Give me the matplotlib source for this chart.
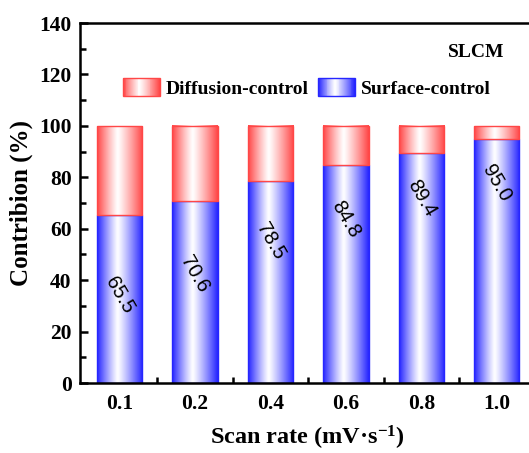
import numpy as np
import matplotlib
matplotlib.use("Agg")
import matplotlib.pyplot as plt
from matplotlib.legend_handler import HandlerBase
from matplotlib.patches import Rectangle

# data
rates = ["0.1", "0.2", "0.4", "0.6", "0.8", "1.0"]
surface = [65.5, 70.6, 78.5, 84.8, 89.4, 95.0]
diffusion = [100 - v for v in surface]
label_y = [34, 42.5, 55, 63.7, 71.8, 77.6]   # where the rotated numbers sit

BLUE = np.array([0.15, 0.15, 1.0])
RED = np.array([1.0, 0.28, 0.28])

plt.rcParams['font.family'] = ['Liberation Serif', 'DejaVu Serif']
plt.rcParams['font.weight'] = 'bold'
plt.rcParams['axes.labelweight'] = 'bold'
plt.rcParams['mathtext.fontset'] = 'custom'
plt.rcParams['mathtext.rm'] = 'Liberation Serif:bold'
plt.rcParams['mathtext.bf'] = 'Liberation Serif:bold'
plt.rcParams['mathtext.default'] = 'bf'


def gradient_row(edge, n=64, c=0.45):
    # horizontal shading: coloured edges, white near the middle
    x = np.linspace(0, 1, n)
    d = np.where(x < c, (c - x) / c, (x - c) / (1 - c))
    d = d ** 1.15
    return (1 - d)[:, None] * np.ones(3) + d[:, None] * edge


def gradient_bar(ax, x, bottom, height, width, edge, zorder=2):
    img = gradient_row(edge)[None, :, :]
    ax.imshow(img, extent=(x - width / 2, x + width / 2, bottom, bottom + height),
              aspect='auto', interpolation='bicubic', zorder=zorder)
    ax.add_patch(Rectangle((x - width / 2, bottom), width, height, fill=False,
                           edgecolor=edge, lw=1.0, zorder=zorder + 0.1))


class HandlerGradient(HandlerBase):
    def __init__(self, edge):
        super().__init__()
        self.edge = edge

    def create_artists(self, legend, orig_handle, xdescent, ydescent, width, height, fontsize, trans):
        cols = gradient_row(self.edge, n=40)
        arts = []
        step = width / len(cols)
        for i, c in enumerate(cols):
            arts.append(Rectangle((-xdescent + i * step, -ydescent), step * 1.05, height,
                                  facecolor=c, edgecolor='none', transform=trans))
        arts.append(Rectangle((-xdescent, -ydescent), width, height, fill=False,
                              edgecolor=self.edge, lw=1.0, transform=trans))
        return arts


fig = plt.figure(figsize=(5.29, 4.53), dpi=100)
ax = fig.add_axes([0.151, 0.1545, 0.862, 0.7947])

xs = np.arange(len(rates))
w = 0.6
for i in xs:
    gradient_bar(ax, i, 0, surface[i], w, BLUE)
    gradient_bar(ax, i, surface[i], diffusion[i], w, RED, zorder=2.5)
    ax.text(i, label_y[i], f"{surface[i]:.1f}", rotation=-60, ha='center', va='center',
            fontsize=14.5, fontweight='normal', family='Liberation Sans', zorder=5)

ax.set_xlim(-0.523, 5.517)
ax.set_ylim(0, 140)

ax.set_xticks(xs)
ax.set_xticklabels(rates)
ax.set_xticks(xs[:-1] + 0.5, minor=True)
ax.set_yticks(np.arange(0, 141, 20))
ax.set_yticks(np.arange(10, 140, 20), minor=True)
ax.tick_params(axis='x', which='major', length=0, pad=8, labelsize=15.5)
ax.tick_params(axis='x', which='minor', direction='in', length=4, width=1.8)
ax.tick_params(axis='y', which='major', direction='in', length=6, width=1.8, pad=6, labelsize=15.5)
ax.tick_params(axis='y', which='minor', direction='in', length=4, width=1.8)
for s in ax.spines.values():
    s.set_linewidth(1.8)

ax.set_xlabel("Scan rate (mV\u00b7s$^{-1}$)", fontsize=17.5, labelpad=7)
ax.set_ylabel("Contribion (%)", fontsize=18, labelpad=4)

h1 = Rectangle((0, 0), 1, 1)
h2 = Rectangle((0, 0), 1, 1)
ax.legend([h1, h2], ["Diffusion-control", "Surface-control"], ncol=2, frameon=False,
          loc='center left', bbox_to_anchor=(0.094, 0.819), borderpad=0, borderaxespad=0,
          handler_map={h1: HandlerGradient(RED), h2: HandlerGradient(BLUE)},
          handlelength=1.9, handleheight=1.0, handletextpad=0.3, columnspacing=0.5,
          prop={'size': 14, 'weight': 'bold'})

ax.text(0.87, 0.919, "SLCM", transform=ax.transAxes, ha='center', va='center', fontsize=14)

fig.savefig("out.png", dpi=100)
